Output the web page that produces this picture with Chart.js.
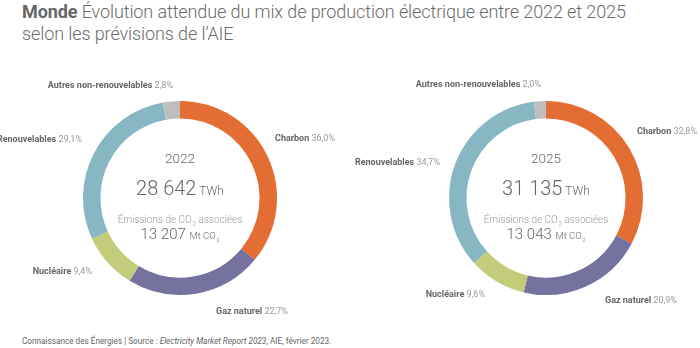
<!DOCTYPE html>
<html>
<head>
<meta charset="utf-8">
<script src="https://cdn.jsdelivr.net/npm/chart.js@4/dist/chart.umd.min.js"></script>
<style>
  html, body { margin: 0; padding: 0; background: #fff; }
  body { width: 700px; height: 348px; position: relative; overflow: hidden; font-family: Roboto, sans-serif; }
  #title { position: absolute; left: 22px; top: 1px; font-size: 18px; line-height: 22px; color: #6b6b6b; font-weight: 300; letter-spacing: -0.1px; }
  #title b { font-weight: 700; color: #666; }
  #footer { position: absolute; left: 22px; top: 336px; font-size: 8.2px; color: #666; }
  .wrap { position: absolute; top: 55px; width: 350px; height: 280px; }
  #w1 { left: 0; }
  #w2 { left: 350px; }
</style>
</head>
<body>
<div id="title"><b>Monde</b> Évolution attendue du mix de production électrique entre 2022 et 2025<br>selon les prévisions de l’AIE</div>
<div class="wrap" id="w1"><canvas id="c1" width="350" height="280"></canvas></div>
<div class="wrap" id="w2"><canvas id="c2" width="350" height="280"></canvas></div>
<div id="footer">Connaissance des Énergies | Source : <i>Electricity Market Report 2023</i>, AIE, février 2023.</div>
<script>
// ---- data ----
const categories = ['Charbon', 'Gaz naturel', 'Nucléaire', 'Renouvelables', 'Autres non-renouvelables'];
const share2022 = [36.0, 22.7, 9.4, 29.1, 2.8];
const share2025 = [32.8, 20.9, 9.6, 34.7, 2.0];
const years = ['2022', '2025'];
const production = ['28 642', '31 135'];
const emissions = ['13 207', '13 043'];

// ---- styles ----
const colors = ['#E46D33', '#7572A0', '#C3CC7B', '#87B7C3', '#BEBEBE'];
// label anchors relative to donut centre: [dx, dy, align]
const labelPos = [
  [[95, -60, 'left'], [36, 113, 'left'], [-88, 73, 'right'], [-98, -59, 'right'], [-7, -113, 'right']],
  [[91, -67, 'left'], [59, 102, 'left'], [-61, 96, 'right'], [-106, -36, 'right'], [-5, -114, 'right']]
];

function fmt(v) { return v.toFixed(1).replace('.', ',') + '%'; }

function drawSub(ctx, x, y, base, sub, fontMain, fontSub) {
  ctx.font = fontMain; ctx.fillText(base, x, y);
  const w = ctx.measureText(base).width;
  ctx.font = fontSub; ctx.fillText(sub, x + w + 0.5, y + 2.5);
  return w + 0.5 + ctx.measureText(sub).width;
}
function widthSub(ctx, base, sub, fontMain, fontSub) {
  ctx.font = fontMain; const w = ctx.measureText(base).width;
  ctx.font = fontSub; return w + 0.5 + ctx.measureText(sub).width;
}

const textPlugin = {
  id: 'texts',
  afterDraw(chart) {
    const idx = chart.options.plugins.texts.index;
    const data = chart.data.datasets[0].data;
    const arc = chart.getDatasetMeta(0).data[0];
    const cx = arc.x, cy = arc.y;
    const ctx = chart.ctx;
    ctx.save();
    ctx.textBaseline = 'alphabetic';
    // segment labels
    chart.data.labels.forEach((lab, i) => {
      const [dx, dy, align] = labelPos[idx][i];
      const fB = 'bold 9px Roboto';
      const fN = '9px Roboto';
      ctx.font = fB; const w1 = ctx.measureText(lab + ' ').width;
      ctx.font = fN; const w2 = ctx.measureText(fmt(data[i])).width;
      let x = cx + dx;
      if (align === 'right') x -= (w1 + w2);
      const y = cy + dy + 3;
      ctx.textAlign = 'left';
      ctx.font = fB; ctx.fillStyle = '#666'; ctx.fillText(lab + ' ', x, y);
      ctx.font = fN; ctx.fillStyle = '#9a9a9a'; ctx.fillText(fmt(data[i]), x + w1, y);
    });
    // centre texts
    ctx.textAlign = 'center';
    ctx.fillStyle = '#666';
    ctx.font = '300 13.5px Roboto';
    ctx.fillText(years[idx], cx, cy - 35);
    // production
    const fNum = '300 20px Roboto', fUnit = '300 12px Roboto';
    ctx.font = fNum; const wn = ctx.measureText(production[idx]).width;
    ctx.font = fUnit; const wu = ctx.measureText(' TWh').width;
    let x0 = cx - (wn + wu) / 2;
    ctx.textAlign = 'left';
    ctx.font = fNum; ctx.fillText(production[idx], x0, cy - 3);
    ctx.font = fUnit; ctx.fillText(' TWh', x0 + wn, cy - 3);
    // emissions label
    ctx.fillStyle = '#999';
    const fE = '300 10px Roboto', fEs = '300 6.5px Roboto';
    ctx.font = fE; const a1 = 'Émissions de CO', a2 = ' associées';
    const wa = widthSub(ctx, a1, '2', fE, fEs);
    ctx.font = fE; const wb = ctx.measureText(a2).width;
    x0 = cx - (wa + wb) / 2;
    drawSub(ctx, x0, cy + 25, a1, '2', fE, fEs);
    ctx.font = fE; ctx.fillText(a2, x0 + wa, cy + 25);
    // emissions value
    ctx.fillStyle = '#666';
    const fV = '300 15px Roboto', fVu = '300 9.5px Roboto', fVs = '300 6px Roboto';
    ctx.font = fV; const wv = ctx.measureText(emissions[idx] + ' ').width;
    const wmu = widthSub(ctx, 'Mt CO', '2', fVu, fVs);
    x0 = cx - (wv + wmu) / 2;
    ctx.font = fV; ctx.fillText(emissions[idx] + ' ', x0, cy + 41);
    drawSub(ctx, x0 + wv, cy + 41, 'Mt CO', '2', fVu, fVs);
    ctx.restore();
  }
};

function makeChart(id, values, idx, pad) {
  return new Chart(document.getElementById(id), {
    type: 'doughnut',
    data: {
      labels: categories,
      datasets: [{ data: values, backgroundColor: colors, borderWidth: 0 }]
    },
    options: {
      responsive: false,
      animation: false,
      cutout: '82%',
      rotation: 0,
      layout: { padding: pad },
      plugins: {
        legend: { display: false },
        tooltip: { enabled: false },
        texts: { index: idx }
      }
    },
    plugins: [textPlugin]
  });
}

// donut centres at (180,198) and (546,198), radius 97; canvases at top 55
makeChart('c1', share2022, 0, { left: 83, right: 73, top: 46, bottom: 40 });
makeChart('c2', share2025, 1, { left: 99, right: 57, top: 46, bottom: 40 });
</script>
</body>
</html>
